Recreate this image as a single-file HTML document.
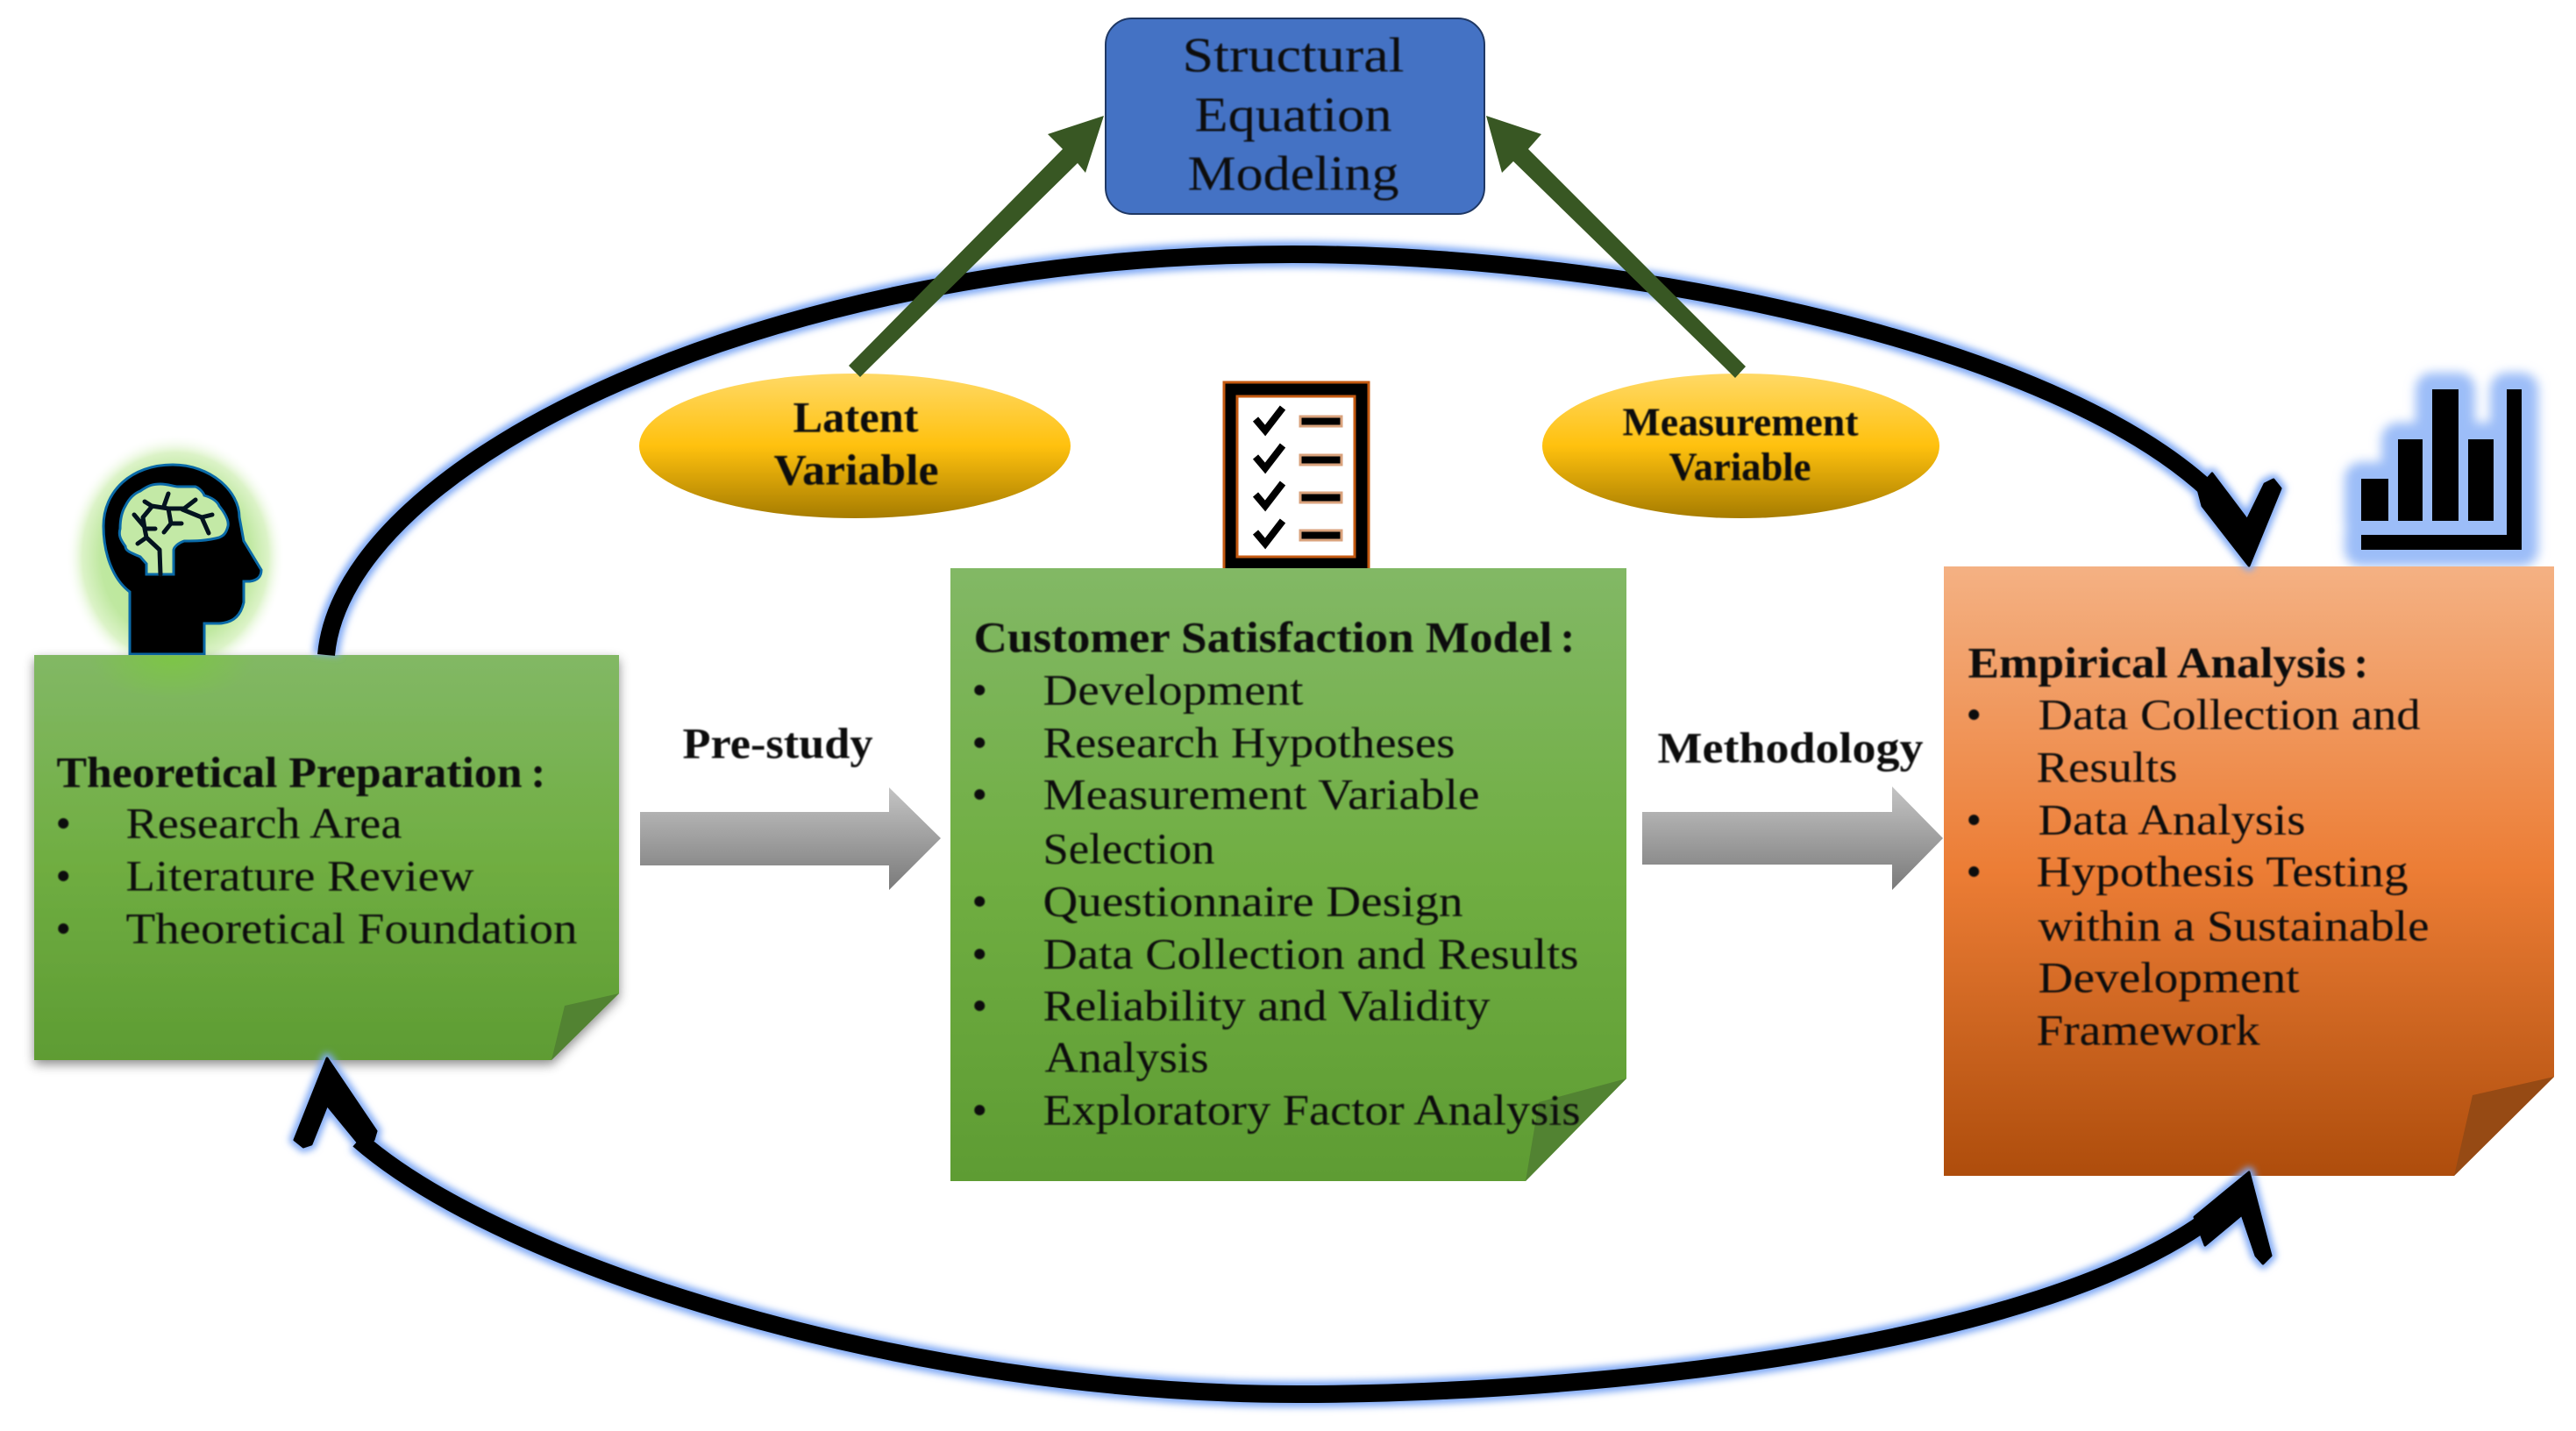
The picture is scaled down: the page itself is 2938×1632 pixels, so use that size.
<!DOCTYPE html>
<html>
<head>
<meta charset="utf-8">
<title>Research framework diagram</title>
<style>
html,body{margin:0;padding:0;background:#fff;width:2938px;height:1632px;overflow:hidden}
svg{display:block}
text{font-family:"Liberation Serif",serif;font-size:50px;fill:#0a0a0a}
.b{font-weight:bold}
</style>
</head>
<body>
<svg width="2938" height="1632" viewBox="0 0 2938 1632" xmlns="http://www.w3.org/2000/svg">
<defs>
<linearGradient id="gr" x1="0" y1="0" x2="0" y2="1"><stop offset="0" stop-color="#82b865"/><stop offset=".5" stop-color="#70ae42"/><stop offset="1" stop-color="#5e9c33"/></linearGradient>
<linearGradient id="or" x1="0" y1="0" x2="0" y2="1"><stop offset="0" stop-color="#f4b183"/><stop offset=".5" stop-color="#ec7d35"/><stop offset="1" stop-color="#ae4d0c"/></linearGradient>
<linearGradient id="ye" x1="0" y1="0" x2="0" y2="1"><stop offset="0" stop-color="#ffd966"/><stop offset=".5" stop-color="#ffc10e"/><stop offset="1" stop-color="#a67c00"/></linearGradient>
<linearGradient id="gy" x1="0" y1="0" x2="0" y2="1"><stop offset="0" stop-color="#c4c4c4"/><stop offset="1" stop-color="#7a7a7a"/></linearGradient>
<radialGradient id="headGlow" cx=".5" cy=".5" r=".5"><stop offset="0" stop-color="#b5e48f"/><stop offset=".68" stop-color="#bfe8a0"/><stop offset=".85" stop-color="#dcf3c8"/><stop offset="1" stop-color="#ffffff" stop-opacity="0"/></radialGradient>
<radialGradient id="noteGlow" cx=".5" cy=".5" r=".5"><stop offset="0" stop-color="#7cc742" stop-opacity=".9"/><stop offset="1" stop-color="#7cc742" stop-opacity="0"/></radialGradient>
<clipPath id="noteClip"><rect x="39" y="748" width="667" height="120"/></clipPath>
<filter id="cg" filterUnits="userSpaceOnUse" x="0" y="0" width="2938" height="1632"><feGaussianBlur stdDeviation="4"/></filter>
<filter id="bg" filterUnits="userSpaceOnUse" x="2600" y="380" width="338" height="300"><feGaussianBlur stdDeviation="6"/></filter>
<filter id="shadow" x="-5%" y="-5%" width="110%" height="110%"><feDropShadow dx="0" dy="5" stdDeviation="6" flood-color="#000" flood-opacity=".45"/></filter>
<filter id="soft" x="-2%" y="-2%" width="104%" height="104%"><feGaussianBlur stdDeviation=".7"/></filter>
</defs>

<!-- head icon -->
<ellipse cx="200" cy="635" rx="125" ry="140" fill="url(#headGlow)"/>
<path d="M148,746 L148,675 C128,660 118,630 118,600 C118,560 150,530 197,530 C240,530 273,560 273,590 L278,617 L298,650 C298,658 293,662 285,663 L278,663 L278,687 C275,700 268,710 250,711 L233,711 L233,746 Z" fill="#000" stroke="#0a6aa8" stroke-width="3"/>
<path d="M167,655 L167,643 L160,635 C148,630 143,628 143,623 C137,615 135,610 137,603 C137,590 140,582 143,577 C148,567 155,562 160,560 C170,553 175,552 183,552 C192,552 198,555 203,555 L223,555 C228,557 232,562 233,565 C243,568 248,572 250,577 C258,587 261,595 260,600 C258,608 255,611 250,613 C235,617 222,617 210,617 C204,619 199,623 198,627 L198,655 Z" fill="#c3e9a6" stroke="#0a6aa8" stroke-width="3"/>
<g fill="none" stroke="#03131f" stroke-width="5" stroke-linecap="round" stroke-linejoin="round">
  <path d="M165,572 L173,577 L192,580 L210,580 L223,570"/>
  <path d="M192,563 L187,577"/>
  <path d="M208,581 L230,590 L242,587 M230,590 L238,608"/>
  <path d="M192,580 L195,597 L187,607 M195,597 L207,597"/>
  <path d="M173,578 L163,590 L165,603 L177,603 M165,603 L167,613 L157,620 M167,613 L182,627 L183,655 M164,600 L153,587"/>
</g>

<!-- bar chart -->
<g fill="#9cbdf8" stroke="#9cbdf8" stroke-width="38" stroke-linejoin="round" filter="url(#bg)">
  <rect x="2693" y="546" width="31" height="48"/><rect x="2735" y="501" width="28" height="93"/><rect x="2774" y="444" width="30" height="150"/><rect x="2815" y="501" width="29" height="93"/><rect x="2859" y="444" width="17" height="183"/><rect x="2693" y="610" width="183" height="17"/>
</g>
<g fill="#000">
  <rect x="2693" y="546" width="31" height="48"/><rect x="2735" y="501" width="28" height="93"/><rect x="2774" y="444" width="30" height="150"/><rect x="2815" y="501" width="29" height="93"/><rect x="2859" y="444" width="17" height="183"/><rect x="2693" y="610" width="183" height="17"/>
</g>

<!-- checklist -->
<rect x="1396" y="436" width="165" height="214" fill="#000" stroke="#c55a11" stroke-width="3"/>
<rect x="1411" y="452" width="134" height="183" fill="#fff" stroke="#c55a11" stroke-width="3"/>
<g fill="none" stroke="#000" stroke-width="8" stroke-linejoin="miter">
  <path d="M1432,478 L1443,491 L1463,465"/><path d="M1432,521 L1443,534 L1463,508"/><path d="M1432,564 L1443,577 L1463,551"/><path d="M1432,607 L1443,620 L1463,594"/>
</g>
<g fill="#000" stroke="#d9a27c" stroke-width="3">
  <rect x="1483" y="475" width="47" height="11"/><rect x="1483" y="519" width="47" height="11"/><rect x="1483" y="562" width="47" height="11"/><rect x="1483" y="605" width="47" height="11"/>
</g>

<!-- notes -->
<path d="M39,747 H706 V1133 L629,1209 H39 Z" fill="url(#gr)" filter="url(#shadow)"/>
<polygon points="706,1133 644,1147 629,1209" fill="#528332"/>
<g clip-path="url(#noteClip)"><ellipse cx="197" cy="748" rx="95" ry="50" fill="url(#noteGlow)"/></g>
<path d="M1084,648 H1855 V1230 L1740,1347 H1084 Z" fill="url(#gr)"/>
<polygon points="1855,1230 1755,1257 1740,1347" fill="#528332"/>
<path d="M2217,646 H2913 V1228 L2799,1341 H2217 Z" fill="url(#or)"/>
<polygon points="2913,1228 2820,1249 2799,1341" fill="#964a14"/>

<!-- curved arrows -->
<g fill="none" stroke="#7fa9f5" stroke-width="30" filter="url(#cg)" stroke-linejoin="round">
  <path d="M372,747 C392,525 880,290 1474,290 C1850,290 2370,392 2540,580"/>
  <path d="M409,1300 C575,1445 1040,1590 1480,1590 C1800,1590 2330,1540 2530,1382"/>
  <polygon stroke-width="12" points="2565,645 2512,577 2507,558 2523,540 2563,593 2583,552 2593,547 2601,557"/>
  <polygon stroke-width="12" points="2565,1337 2590,1432 2581,1441 2573,1432 2557,1385 2515,1420 2503,1388"/>
  <polygon stroke-width="12" points="373,1207 429,1290 426,1300 410,1305 373,1260 355,1305 346,1308 336,1300"/>
</g>
<g fill="none" stroke="#000" stroke-width="20">
  <path d="M372,747 C392,525 880,290 1474,290 C1850,290 2370,392 2540,580"/>
  <path d="M409,1300 C575,1445 1040,1590 1480,1590 C1800,1590 2330,1540 2530,1382"/>
</g>
<g fill="#000" stroke="#000" stroke-width="3" stroke-linejoin="round">
  <polygon points="2565,645 2512,577 2507,558 2523,540 2563,593 2583,552 2593,547 2601,557"/>
  <polygon points="2565,1337 2590,1432 2581,1441 2573,1432 2557,1385 2515,1420 2503,1388"/>
  <polygon points="373,1207 429,1290 426,1300 410,1305 373,1260 355,1305 346,1308 336,1300"/>
</g>

<!-- gray arrows -->
<polygon points="730,926 1014,926 1014,898 1073,956 1014,1015 1014,987 730,987" fill="url(#gy)"/>
<polygon points="1873,926 2158,926 2158,897 2216,956 2158,1015 2158,986 1873,986" fill="url(#gy)"/>

<!-- SEM -->
<rect x="1261" y="21" width="432" height="223" rx="30" ry="30" fill="#4472c4" stroke="#1f3864" stroke-width="2"/>

<!-- ellipses -->
<ellipse cx="975" cy="508.500" rx="246" ry="82.500" fill="url(#ye)"/>
<ellipse cx="1985.500" cy="508.500" rx="226.500" ry="82.500" fill="url(#ye)"/>

<!-- green arrows -->
<g fill="#385723">
  <polygon points="1259,132 1238,197 1229,186 993,418 981,430 968,417 1212,170 1195,153"/>
  <polygon points="1695,132 1713,197 1726,184 1966,418 1979,431 1991,418 1743,170 1758,153"/>
</g>

<!-- text -->
<g filter="url(#soft)" transform="translate(-0.500,0.500)">
<text x="1349" y="81" style="font-size:56px" textLength="253" lengthAdjust="spacingAndGlyphs">Structural</text>
<text x="1363" y="149" style="font-size:56px" textLength="225" lengthAdjust="spacingAndGlyphs">Equation</text>
<text x="1355" y="216" style="font-size:56px" textLength="241" lengthAdjust="spacingAndGlyphs">Modeling</text>

<text class="b" x="905" y="492" textLength="143" lengthAdjust="spacingAndGlyphs">Latent</text>
<text class="b" x="883" y="552" textLength="188" lengthAdjust="spacingAndGlyphs">Variable</text>
<text class="b" x="1851" y="496" style="font-size:45px" textLength="269" lengthAdjust="spacingAndGlyphs">Measurement</text>
<text class="b" x="1904" y="547" style="font-size:45px" textLength="162" lengthAdjust="spacingAndGlyphs">Variable</text>

<text class="b" x="779" y="864" textLength="217" lengthAdjust="spacingAndGlyphs">Pre-study</text>
<text class="b" x="1891" y="869" textLength="303" lengthAdjust="spacingAndGlyphs">Methodology</text>

<text class="b" x="65" y="897" textLength="531" lengthAdjust="spacingAndGlyphs">Theoretical Preparation</text><text class="b" x="606" y="897">:</text>
<text x="64" y="955">•</text><text x="144" y="955" textLength="315" lengthAdjust="spacingAndGlyphs">Research Area</text>
<text x="64" y="1015">•</text><text x="144" y="1015" textLength="397" lengthAdjust="spacingAndGlyphs">Literature Review</text>
<text x="64" y="1075">•</text><text x="144" y="1075" textLength="515" lengthAdjust="spacingAndGlyphs">Theoretical Foundation</text>

<text class="b" x="1111" y="743" textLength="660" lengthAdjust="spacingAndGlyphs">Customer Satisfaction Model</text><text class="b" x="1780" y="743">:</text>
<text x="1109" y="803">•</text><text x="1190" y="803" textLength="297" lengthAdjust="spacingAndGlyphs">Development</text>
<text x="1109" y="863">•</text><text x="1190" y="863" textLength="470" lengthAdjust="spacingAndGlyphs">Research Hypotheses</text>
<text x="1109" y="922">•</text><text x="1190" y="922" textLength="498" lengthAdjust="spacingAndGlyphs">Measurement Variable</text>
<text x="1190" y="984" textLength="196" lengthAdjust="spacingAndGlyphs">Selection</text>
<text x="1109" y="1044">•</text><text x="1190" y="1044" textLength="479" lengthAdjust="spacingAndGlyphs">Questionnaire Design</text>
<text x="1109" y="1104">•</text><text x="1190" y="1104" textLength="611" lengthAdjust="spacingAndGlyphs">Data Collection and Results</text>
<text x="1109" y="1163">•</text><text x="1190" y="1163" textLength="510" lengthAdjust="spacingAndGlyphs">Reliability and Validity</text>
<text x="1192" y="1222" textLength="187" lengthAdjust="spacingAndGlyphs">Analysis</text>
<text x="1109" y="1282">•</text><text x="1190" y="1282" textLength="613" lengthAdjust="spacingAndGlyphs">Exploratory Factor Analysis</text>

<text class="b" x="2245" y="772" textLength="431" lengthAdjust="spacingAndGlyphs">Empirical Analysis</text><text class="b" x="2685" y="772">:</text>
<text x="2243" y="831">•</text><text x="2325" y="831" textLength="436" lengthAdjust="spacingAndGlyphs">Data Collection and</text>
<text x="2323" y="891" textLength="161" lengthAdjust="spacingAndGlyphs">Results</text>
<text x="2243" y="951">•</text><text x="2325" y="951" textLength="305" lengthAdjust="spacingAndGlyphs">Data Analysis</text>
<text x="2243" y="1010">•</text><text x="2323" y="1010" textLength="424" lengthAdjust="spacingAndGlyphs">Hypothesis Testing</text>
<text x="2325" y="1072" textLength="446" lengthAdjust="spacingAndGlyphs">within a Sustainable</text>
<text x="2325" y="1131" textLength="298" lengthAdjust="spacingAndGlyphs">Development</text>
<text x="2323" y="1191" textLength="255" lengthAdjust="spacingAndGlyphs">Framework</text>
</g>
</svg>
</body>
</html>
